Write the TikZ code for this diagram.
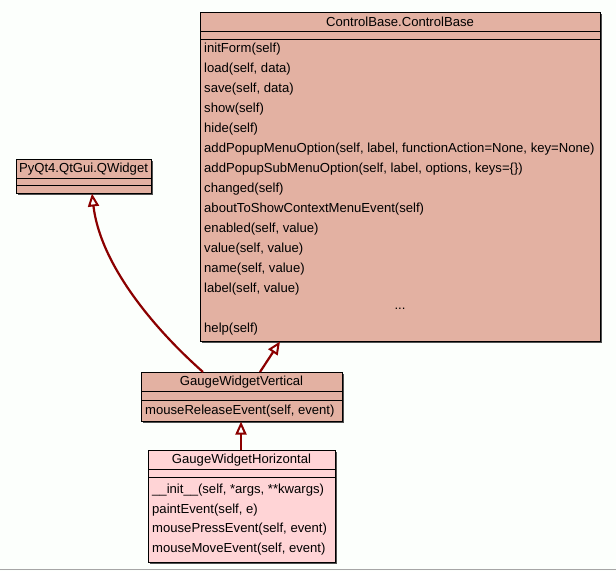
\documentclass[tikz,border=0pt]{standalone}
\usepackage{fontspec}
\setmainfont{Liberation Sans}
\usetikzlibrary{arrows.meta}
\definecolor{pagebg}{HTML}{FCFFFC}
\definecolor{classfill}{HTML}{E3B1A2}
\definecolor{subfill}{HTML}{FFD4D6}
\definecolor{linkred}{HTML}{8B0000}
\definecolor{shadowgray}{HTML}{505050}
\begin{document}
\begin{tikzpicture}[x=1pt,y=-1pt,
  box/.style={draw=black, line width=0.9pt, inner sep=0pt, anchor=north west},
  boxshadow/.style={fill=shadowgray},
  sep/.style={draw=black, line width=0.9pt},
  title/.style={font=\fontsize{13.1}{15}\selectfont, inner sep=0pt, anchor=center},
  meth/.style={font=\fontsize{13.1}{15}\selectfont, inner sep=0pt, anchor=west},
  inherit/.style={draw=linkred, line width=2.2pt,
    -{Triangle[length=13pt, width=11pt, fill=white, line width=2pt]}},
]
\useasboundingbox (0,0) rectangle (616,571);
\fill[pagebg] (0,0) rectangle (616,571);
\draw[gray!70, line width=1.2pt] (0,569.5) -- (616,569.5);

% ---- ControlBase.ControlBase ----
\fill[boxshadow] (202,14) rectangle (602,343);
\node[box, fill=classfill, minimum width=400, minimum height=329] (cb) at (200,12) {};
\node[title] (cbname) at (400,22) {ControlBase.ControlBase};
\draw[sep] (200,31) -- (600,31);
\draw[sep] (200,39) -- (600,39);
\foreach \m [count=\i from 0] in {initForm(self), load(self{,} data), save(self{,} data),
    show(self), hide(self),
    addPopupMenuOption(self{,} label{,} functionAction=None{,} key=None),
    addPopupSubMenuOption(self{,} label{,} options{,} keys=\{\}),
    changed(self), aboutToShowContextMenuEvent(self), enabled(self{,} value),
    value(self{,} value), name(self{,} value), label(self{,} value)}
  \node[meth] (cbm\i) at (204,49+20*\i) {\m};
\node[title] (cbdots) at (400,309) {...};
\node[meth] (cbhelp) at (204,329) {help(self)};

% ---- PyQt4.QtGui.QWidget ----
\fill[boxshadow] (18,161) rectangle (153,195);
\node[box, fill=classfill, minimum width=135, minimum height=34] (qw) at (16,159) {};
\node[title] (qwname) at (83.5,169.5) {PyQt4.QtGui.QWidget};
\draw[sep] (16,178) -- (151,178);
\draw[sep] (16,185.5) -- (151,185.5);

% ---- GaugeWidgetVertical ----
\fill[boxshadow] (143,374) rectangle (344,423);
\node[box, fill=classfill, minimum width=201, minimum height=49] (gv) at (141,372) {};
\node[title] (gvname) at (241.5,382.5) {GaugeWidgetVertical};
\draw[sep] (141,391) -- (342,391);
\draw[sep] (141,400) -- (342,400);
\node[meth] (gvm0) at (145,411.5) {mouseReleaseEvent(self, event)};

% ---- GaugeWidgetHorizontal ----
\fill[boxshadow] (150,452) rectangle (337,564);
\node[box, fill=subfill, minimum width=187, minimum height=112] (gh) at (148,450) {};
\node[title] (ghname) at (241.5,460.5) {GaugeWidgetHorizontal};
\draw[sep] (148,469) -- (335,469);
\draw[sep] (148,477) -- (335,477);
\foreach \m [count=\i from 0] in {\_\_init\_\_(self{,} *args{,} **kwargs), paintEvent(self{,} e),
    mousePressEvent(self{,} event), mouseMoveEvent(self{,} event)}
  \node[meth] (ghm\i) at (152,490+19.7*\i) {\m};

% ---- inheritance links ----
\coordinate (gvleft) at (203,372);
\coordinate (qwbottom) at (92,193.5);
\coordinate (gvright) at (260,372);
\coordinate (cbbottom) at (280,341.5);
\coordinate (ghtop) at (241,450);
\coordinate (gvbottom) at (241,421.5);
\draw[inherit] (gvleft) .. controls (150,325) and (100,262) .. (qwbottom);
\draw[inherit] (gvright) -- (cbbottom);
\draw[inherit] (ghtop) -- (gvbottom);
\end{tikzpicture}
\end{document}
